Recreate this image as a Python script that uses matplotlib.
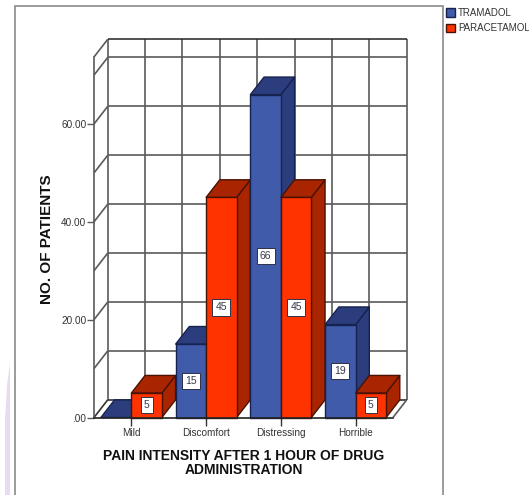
import numpy as np
import matplotlib
matplotlib.use('Agg')
import matplotlib.pyplot as plt
from matplotlib.patches import Polygon, Patch, Rectangle

plt.rcParams['font.family'] = ['Liberation Sans', 'DejaVu Sans']

categories = ['Mild', 'Discomfort', 'Distressing', 'Horrible']
tramadol = [0, 15, 66, 19]
paracetamol = [5, 45, 45, 5]
y_ticks = [0, 20, 40, 60]
y_tick_labels = ['.00', '20.00', '40.00', '60.00']
grid_y = [10, 20, 30, 40, 50, 60, 70]

BLUE, BLUE_DARK, BLUE_EDGE = '#3f5ba9', '#2b3d7c', '#16224f'
RED, RED_DARK, RED_EDGE = '#ff3300', '#a82500', '#4a1205'

W, H = 529, 495
BAR_W = 0.408
# depth of the fake 3D box, in data units
DX, DY = 0.183, 3.6
YMAX = 73.7


def draw_bar(ax, left, value, front, dark, edge):
    right = left + BAR_W
    kw = dict(edgecolor=edge, linewidth=1.0, joinstyle='round', clip_on=False, zorder=3)
    ax.add_patch(Polygon([(right, 0), (right + DX, DY), (right + DX, value + DY), (right, value)],
                         facecolor=dark, **kw))
    ax.add_patch(Polygon([(left, value), (left + DX, value + DY), (right + DX, value + DY), (right, value)],
                         facecolor=dark, **kw))
    if value > 0:
        ax.add_patch(Rectangle((left, 0), BAR_W, value, facecolor=front, **kw))
        ax.text(left + BAR_W / 2, value / 2, str(value), ha='center', va='center',
                fontsize=7.5, color='#3a3a4a', zorder=4,
                bbox=dict(boxstyle='square,pad=0.3', facecolor='white',
                          edgecolor='#30304a', linewidth=0.7))


fig = plt.figure(figsize=(W / 100, H / 100), dpi=100)

# pale strip down the left edge and the grey chart frame
strip = [(5, H), (10, H), (10, 363), (7, 385), (5, 420)]
fig.add_artist(Polygon([(x / W, 1 - y / H) for x, y in strip], transform=fig.transFigure,
                       facecolor='#e8dcf0', edgecolor='none', zorder=-2))
fig.add_artist(Rectangle((15 / W, -0.05), 428 / W, 1.05 - 6 / H, transform=fig.transFigure,
                         facecolor='white', edgecolor='#8a8a8a', linewidth=1.2, zorder=-1))

ax = fig.add_axes([94 / W, 1 - 417.5 / H, 299 / W, 360.5 / H])
ax.set_facecolor('none')
ax.set_xlim(-0.5, 3.5)
ax.set_ylim(0, YMAX)

# back wall, left wall and floor
GRID = '#5a5a5a'
line = dict(clip_on=False, solid_capstyle='butt', zorder=1)
for v in grid_y:
    ax.plot([-0.5 + DX, 3.5 + DX], [v + DY, v + DY], color=GRID, lw=1.2, **line)
    ax.plot([-0.5, -0.5 + DX], [v, v + DY], color=GRID, lw=1.2, **line)
for x in np.arange(-0.5, 4.0, 0.5):
    ax.plot([x + DX, x + DX], [DY, YMAX + DY], color=GRID, lw=1.2, **line)
ax.plot([-0.5 + DX, 3.5 + DX], [YMAX + DY, YMAX + DY], color='#222222', lw=1.1, **line)
ax.plot([-0.5 + DX, 3.5 + DX], [DY, DY], color='#333333', lw=1.2, **line)
ax.plot([-0.5, -0.5 + DX], [YMAX, YMAX + DY], color=GRID, lw=1.2, **line)
ax.plot([-0.5, -0.5 + DX], [0, DY], color='#333333', lw=1.2, **line)
ax.plot([3.5, 3.5 + DX], [0, DY], color=GRID, lw=1.2, **line)

for i in range(len(categories)):
    draw_bar(ax, i - BAR_W, tramadol[i], BLUE, BLUE_DARK, BLUE_EDGE)
    draw_bar(ax, i, paracetamol[i], RED, RED_DARK, RED_EDGE)

for side in ['top', 'right']:
    ax.spines[side].set_visible(False)
ax.spines['left'].set_color(GRID)
ax.spines['left'].set_linewidth(1.2)
ax.spines['bottom'].set_color('#222222')
ax.spines['bottom'].set_linewidth(1.2)
ax.spines['bottom'].set_zorder(5)

ax.set_yticks(y_ticks)
ax.set_yticklabels(y_tick_labels)
ax.set_xticks(range(len(categories)))
ax.set_xticklabels(categories)
ax.tick_params(axis='y', length=5, width=1.0, color=GRID, labelsize=7.2, labelcolor='#333333', pad=0.5)
ax.tick_params(axis='x', length=6, width=1.0, color='#333333', labelsize=7.2, labelcolor='#333333', pad=1.5)

fig.text(47 / W, 1 - 239 / H, 'NO. OF PATIENTS', rotation=90, ha='center', va='center',
         fontsize=11, fontweight='bold', color='#111111')
fig.text(243.5 / W, 1 - 462.5 / H, 'PAIN INTENSITY AFTER 1 HOUR OF DRUG\nADMINISTRATION',
         ha='center', va='center', fontsize=10, fontweight='bold', color='#111111', linespacing=1.0)

handles = [Patch(facecolor=BLUE, edgecolor=BLUE_EDGE, label='TRAMADOL'),
           Patch(facecolor=RED, edgecolor=RED_EDGE, label='PARACETAMOL')]
fig.legend(handles=handles, loc='upper left', bbox_to_anchor=(445.5 / W, 1 - 8 / H), frameon=False,
           fontsize=7, labelcolor='#333333', handlelength=1.0, handleheight=1.0, handletextpad=0.3,
           labelspacing=0.55, borderpad=0, borderaxespad=0)

fig.savefig('out.png', dpi=100)
